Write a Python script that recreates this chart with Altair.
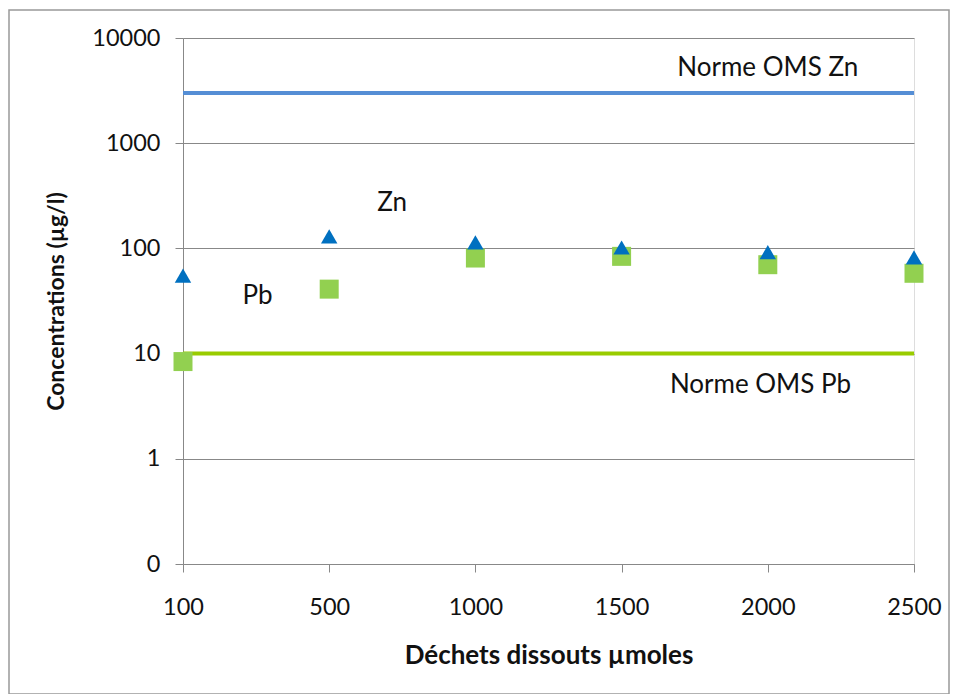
import altair as alt
import pandas as pd

categories = ["100", "500", "1000", "1500", "2000", "2500"]
zn_values = [55, 130, 114, 102, 92, 82]
pb_values = [8.4, 41, 81, 84, 70, 58]
norm_zn = 3000
norm_pb = 10
y_ticks = [0.1, 1, 10, 100, 1000, 10000]

ann_text = ["Norme OMS Zn", "Zn", "Pb", "Norme OMS Pb"]
ann_x = [4.0, 1.43, 0.51, 3.95]
ann_y = [5200, 268, 35, 5.0]

FONT = "Lato"
idx = list(range(len(categories)))
df = pd.DataFrame({"i": idx, "cat": categories, "Zn": zn_values, "Pb": pb_values})
ann = pd.DataFrame({"t": ann_text, "x": ann_x, "y": ann_y})

label_expr = "[" + ",".join("'%s'" % c for c in categories) + "][round(datum.value)]"

xscale = alt.Scale(domain=[0, len(categories) - 1], nice=False, zero=False)
yscale = alt.Scale(type="log", domain=[0.1, 10000], nice=False)

xaxis = alt.Axis(values=idx, labelExpr=label_expr, title="Déchets dissouts µmoles",
                 grid=False, tickSize=8, labelPadding=23, titlePadding=24,
                 labelFontSize=23.5, titleFontSize=26, titleFontWeight="bold",
                 labelFont=FONT, titleFont=FONT, labelColor="#111", titleColor="#111",
                 domainColor="#888", tickColor="#888", labelFlush=False)
yaxis = alt.Axis(values=y_ticks, labelExpr="datum.value < 1 ? '0' : format(datum.value, 'd')",
                 title="Concentrations (µg/l)", grid=True, gridColor="#888", tickSize=8,
                 labelPadding=15, titlePadding=23, labelFontSize=23.5, titleFontSize=23,
                 titleFontWeight="bold", labelFont=FONT, titleFont=FONT,
                 labelColor="#111", titleColor="#111", domainColor="#888", tickColor="#888")

base = alt.Chart(df)

border = alt.Chart(pd.DataFrame({"a": [0]})).mark_rect(
    fill=None, stroke="#999", strokeWidth=1.5, clip=False
).encode(x=alt.value(-174), x2=alt.value(766), y=alt.value(-28), y2=alt.value(656))

axes_layer = base.mark_point(opacity=0).encode(
    x=alt.X("i:Q", scale=xscale, axis=xaxis),
    y=alt.Y("Zn:Q", scale=yscale, axis=yaxis),
)

rule_zn = alt.Chart(pd.DataFrame({"v": [norm_zn]})).mark_rule(
    color="#558ED5", strokeWidth=4
).encode(y=alt.Y("v:Q", scale=yscale))
rule_pb = alt.Chart(pd.DataFrame({"v": [norm_pb]})).mark_rule(
    color="#99CC00", strokeWidth=4
).encode(y=alt.Y("v:Q", scale=yscale))

pb_pts = base.mark_point(shape="square", filled=True, size=361, color="#92D050",
                         opacity=1, clip=False).encode(
    x=alt.X("i:Q", scale=xscale), y=alt.Y("Pb:Q", scale=yscale))
zn_pts = base.mark_point(shape="triangle-up", filled=True, size=270, color="#0070C0",
                         opacity=1, clip=False).encode(
    x=alt.X("i:Q", scale=xscale), y=alt.Y("Zn:Q", scale=yscale))

labels = alt.Chart(ann).mark_text(font=FONT, fontSize=26, color="#111").encode(
    x=alt.X("x:Q", scale=xscale), y=alt.Y("y:Q", scale=yscale), text="t:N")

chart = alt.layer(border, axes_layer, rule_zn, rule_pb, pb_pts, zn_pts, labels).properties(
    width=731, height=526,
    autosize=alt.AutoSizeParams(type="none"),
    padding={"left": 175, "top": 30, "right": 36, "bottom": 130},
).configure_view(stroke=None).configure(background="white")

chart.save("out.html", embed_options={"renderer": "svg", "actions": False})
